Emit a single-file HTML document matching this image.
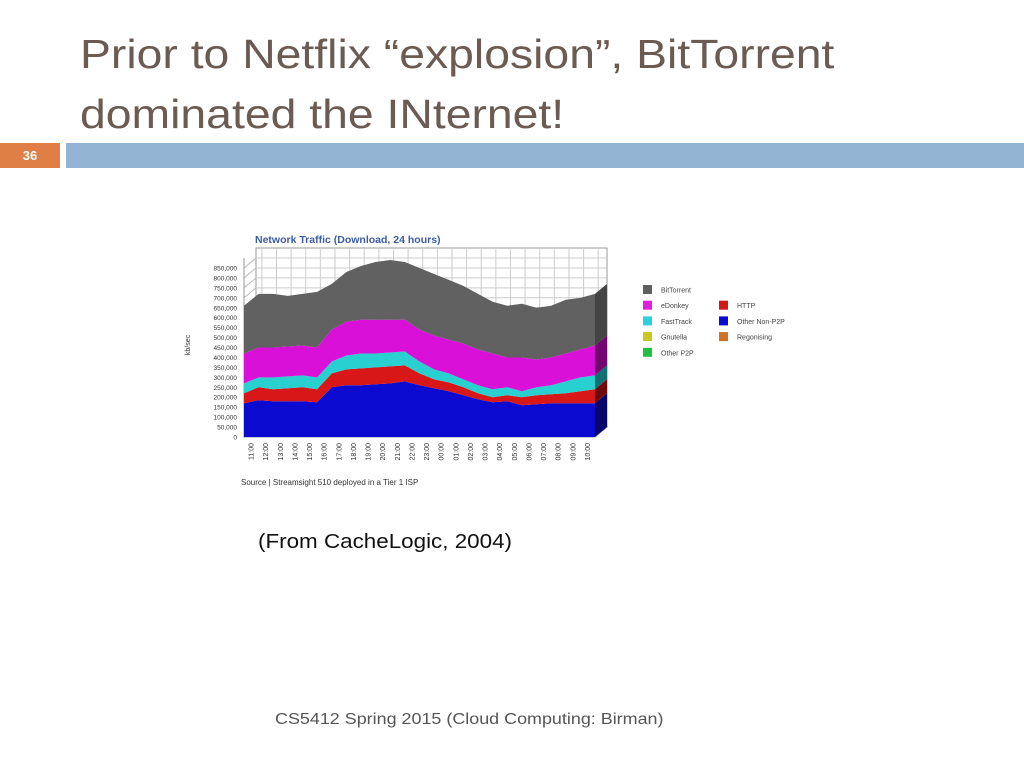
<!DOCTYPE html>
<html><head><meta charset="utf-8">
<style>
body{margin:0;width:1024px;height:768px;background:#fff;position:relative;overflow:hidden;font-family:"Liberation Sans",sans-serif}
.t{position:absolute;left:80px;color:#6b5b52;font-size:41px;line-height:60px;transform:scaleX(1.13);transform-origin:0 0;white-space:nowrap}
</style></head><body>
<div class="t" style="top:24px">Prior to Netflix “explosion”, BitTorrent<br>dominated the INternet!</div>
<div style="position:absolute;left:0;top:143px;width:60px;height:25px;background:#df7f45;color:#fff;font-weight:bold;font-size:13px;text-align:center;line-height:25px">36</div>
<div style="position:absolute;left:66px;top:143px;width:958px;height:25px;background:#93b4d3"></div>
<svg id="chart" width="1024" height="768" style="position:absolute;left:0;top:0"></svg>
<div style="position:absolute;left:258px;top:531px;font-size:20px;color:#111;transform:scaleX(1.12);transform-origin:0 0;white-space:nowrap">(From CacheLogic, 2004)</div>
<div style="position:absolute;left:275px;top:711px;font-size:16px;color:#555;transform:scaleX(1.12);transform-origin:0 0;white-space:nowrap">CS5412 Spring 2015 (Cloud Computing: Birman)</div>
<script>
const hours=["11:00","12:00","13:00","14:00","15:00","16:00","17:00","18:00","19:00","20:00","21:00","22:00","23:00","00:00","01:00","02:00","03:00","04:00","05:00","06:00","07:00","08:00","09:00","10:00"];
const yTicks=[0,50,100,150,200,250,300,350,400,450,500,550,600,650,700,750,800,850];
const otherNonP2P=[170,185,180,180,180,175,250,260,260,265,270,280,260,245,230,210,190,175,180,160,165,170,170,170,170];
const http=[50,65,60,65,70,65,70,80,85,85,85,80,60,45,45,40,30,25,30,40,45,45,50,60,70];
const fastTrack=[50,50,60,60,60,60,60,70,75,70,70,70,60,50,45,40,40,40,40,30,40,45,60,70,70];
const eDonkey=[150,150,150,150,150,150,160,170,170,170,165,160,160,170,170,180,180,180,150,170,140,140,140,140,150];
const bitTorrent=[240,270,270,255,260,280,230,250,270,290,300,290,310,310,300,290,280,260,260,270,260,260,270,260,260];
const legendA=[["BitTorrent","#5f5f5f"],["eDonkey","#e01ee0"],["FastTrack","#2ad0e0"],["Gnutella","#c8c820"],["Other P2P","#22c040"]];
const legendB=[["HTTP","#d01818"],["Other Non-P2P","#0a0ad0"],["Regonising","#d07020"]];
const svg=document.getElementById('chart'),NS="http://www.w3.org/2000/svg";
function mk(t,a,p){const e=document.createElementNS(NS,t);for(const k in a)e.setAttribute(k,a[k]);(p||svg).appendChild(e);return e;}
const X0=244,X1=595,Y0=437,YT=268,DX=12,DY=-10;
const xs=i=>X0+i*(X1-X0)/(otherNonP2P.length-1);
const ys=v=>Y0-(v/850)*(Y0-YT);
let e;
e=mk('rect',{x:X0+DX,y:YT+DY-10,width:X1-X0,height:Y0-YT+10,fill:'#fff',stroke:'#999'});


yTicks.forEach(v=>{e=mk('line',{x1:X0,y1:ys(v),x2:X0+DX,y2:ys(v)+DY,stroke:'#bbb'});
e=mk('line',{x1:X0+DX,y1:ys(v)+DY,x2:X1+DX,y2:ys(v)+DY,stroke:'#ccc'});});
hours.forEach((h,i)=>{const x=X0+DX+(i+0.4)*(X1-X0)/24;e=mk('line',{x1:x,y1:YT+DY-10,x2:x,y2:Y0+DY,stroke:'#ccc'});});
mk('line',{x1:X0,y1:YT-10,x2:X0,y2:Y0,stroke:'#999'});
mk('polygon',{points:`${X0},${Y0} ${X1},${Y0} ${X1+DX},${Y0+DY} ${X0+DX},${Y0+DY}`,fill:'#eee',stroke:'#999'});
const series=[[otherNonP2P,'#0a0ad0','#06066a','series-other-non-p2p'],[http,'#d81818','#700a0a','series-http'],[fastTrack,'#28d0d0','#127070','series-fasttrack'],[eDonkey,'#d810d8','#700870','series-edonkey'],[bitTorrent,'#616161','#444','series-bittorrent']];
let base=otherNonP2P.map(()=>0);
series.forEach(([arr,c,dark,name])=>{
  const top=base.map((b,i)=>b+arr[i]);const n=arr.length;
  let pts=[];for(let i=0;i<n;i++)pts.push(xs(i)+','+ys(top[i]));
  for(let i=n-1;i>=0;i--)pts.push(xs(i)+','+ys(base[i]));
  e=mk('polygon',{points:pts.join(' '),fill:c});
  
  
  const xr=xs(n-1);
  e=mk('polygon',{points:`${xr},${ys(top[n-1])} ${xr+DX},${ys(top[n-1])+DY} ${xr+DX},${ys(base[n-1])+DY} ${xr},${ys(base[n-1])}`,fill:dark});
  
  
  base=top;
});
yTicks.forEach(v=>{e=mk('text',{x:237,y:ys(v)+2.5,'font-size':6.5,'text-anchor':'end',fill:'#333','font-family':'Liberation Sans'});e.textContent=v===0?'0':(v+',000');});
e=mk('text',{transform:'translate(190,345) rotate(-90)','font-size':7,'text-anchor':'middle',fill:'#333'});e.textContent='kb/sec';
hours.forEach((h,i)=>{const x=X0+(i+0.45)*(X1-X0)/24+3;e=mk('text',{transform:`translate(${x},443) rotate(-90)`,'font-size':7,'text-anchor':'end',fill:'#333'});e.textContent=h;});
e=mk('text',{x:255,y:243,'font-size':10.5,'font-weight':'bold',fill:'#3a5aa8'});e.textContent='Network Traffic (Download, 24 hours)';
e=mk('text',{x:241,y:485,'font-size':8,fill:'#333'});e.textContent='Source | Streamsight 510 deployed in a Tier 1 ISP';
legendA.forEach(([l,c],i)=>{const y=285+i*15.7;e=mk('rect',{x:643,y:y,width:9,height:9,fill:c});
e=mk('text',{x:661,y:y+7.5,'font-size':7,fill:'#444'});e.textContent=l;});
legendB.forEach(([l,c],i)=>{const y=300.7+i*15.7;e=mk('rect',{x:719,y:y,width:9,height:9,fill:c});
e=mk('text',{x:737,y:y+7.5,'font-size':7,fill:'#444'});e.textContent=l;});
</script>
</body></html>
